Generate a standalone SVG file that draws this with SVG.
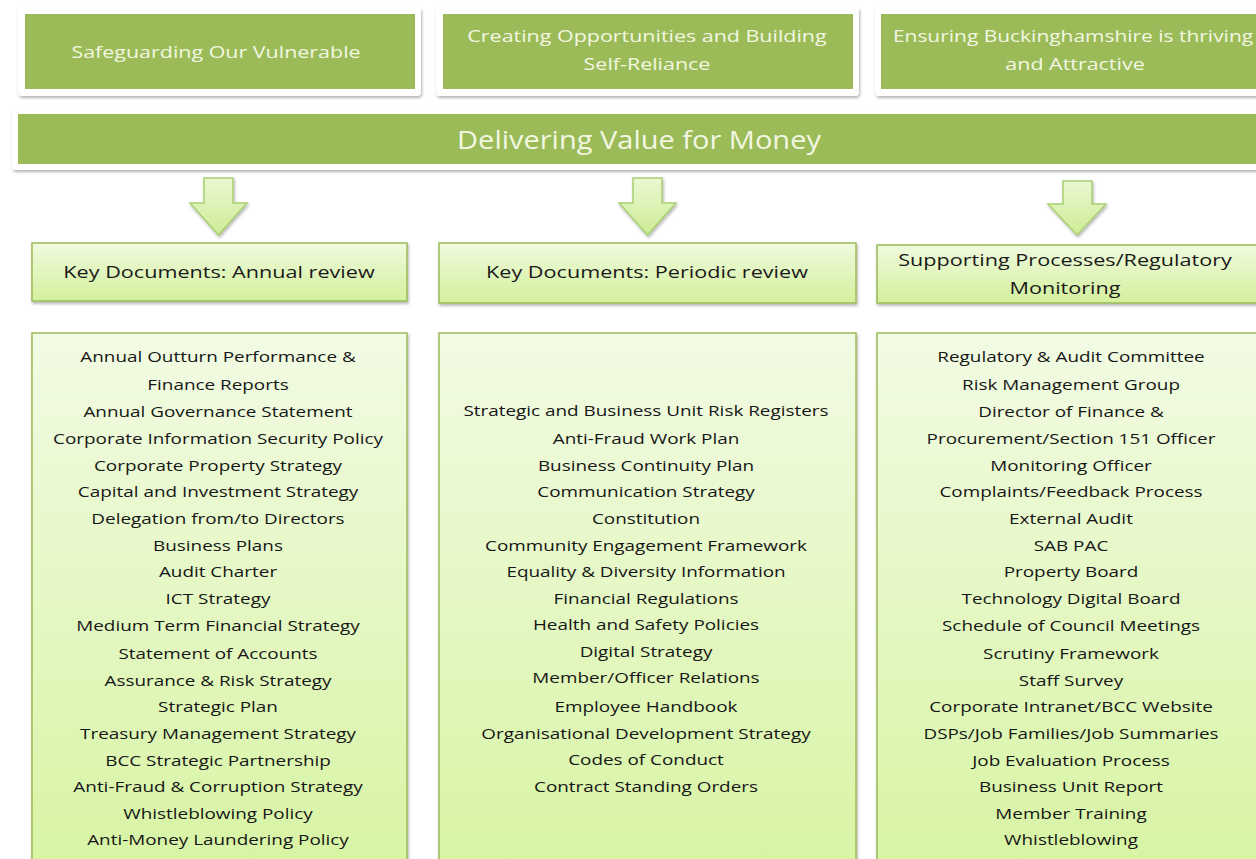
<svg xmlns="http://www.w3.org/2000/svg" width="1256" height="859" viewBox="0 0 1256 859">
<defs>
<linearGradient id="gBox" x1="0" y1="0" x2="0" y2="1">
<stop offset="0" stop-color="#f2fbe4"/>
<stop offset="1" stop-color="#d7f4a3"/>
</linearGradient>
<linearGradient id="gHead" x1="0" y1="0" x2="0" y2="1">
<stop offset="0" stop-color="#f0fadf"/>
<stop offset="1" stop-color="#d3f09c"/>
</linearGradient>
<linearGradient id="gArrow" x1="0" y1="0" x2="0" y2="1">
<stop offset="0" stop-color="#eaf8d2"/>
<stop offset="1" stop-color="#cdec95"/>
</linearGradient>
<filter id="sh" x="-5%" y="-10%" width="110%" height="130%">
<feDropShadow dx="1" dy="2" stdDeviation="1.5" flood-color="#000" flood-opacity="0.3"/>
</filter>
</defs>
<style>
.frame{fill:#ffffff;filter:url(#sh);}
.band{fill:#9bbb59;}
.wt{font-family:"Open Sans","Liberation Sans",sans-serif;fill:#f3f7e2;text-anchor:middle;}
.box{fill:url(#gBox);stroke:#9bbb59;stroke-width:1.5;filter:url(#sh);}
.head{fill:url(#gHead);stroke:#9bbb59;stroke-width:1.5;filter:url(#sh);}
.arrow{fill:url(#gArrow);stroke:#a9cf72;stroke-width:1.5;filter:url(#sh);}
.ht{font-family:"Open Sans","Liberation Sans",sans-serif;font-size:16.5px;fill:#1a1a1a;text-anchor:middle;}
.lt{font-family:"Open Sans","Liberation Sans",sans-serif;font-size:15px;fill:#161616;text-anchor:middle;}
</style>
<rect width="1256" height="859" fill="#ffffff"/>

<g id="goal1">
<rect class="frame" x="18" y="7" width="403" height="89" rx="4"/>
<rect class="band" x="25" y="14" width="390" height="75"/>
<g transform="translate(216 0) scale(1.3 1)">
<text class="wt" x="0" y="58" font-size="16.5">Safeguarding Our Vulnerable</text>
</g>
</g>
<g id="goal2">
<rect class="frame" x="436" y="7" width="423" height="89" rx="4"/>
<rect class="band" x="443" y="14" width="410" height="75"/>
<g transform="translate(647 0) scale(1.3 1)">
<text class="wt" x="0" y="42" font-size="16.5">Creating Opportunities and Building</text>
<text class="wt" x="0" y="70" font-size="16.5">Self-Reliance</text>
</g>
</g>
<g id="goal3">
<rect class="frame" x="875" y="7" width="400" height="89" rx="4"/>
<rect class="band" x="881" y="14" width="390" height="75"/>
<g transform="translate(1073 0) scale(1.27 1)">
<text class="wt" x="0" y="42" font-size="16.5">Ensuring Buckinghamshire is thriving</text>
</g>
<g transform="translate(1075 0) scale(1.3 1)">
<text class="wt" x="0" y="70" font-size="16.5">and Attractive</text>
</g>
</g>
<g id="banner">
<rect class="frame" x="12" y="108" width="1270" height="62" rx="4"/>
<rect class="band" x="18" y="114" width="1260" height="50"/>
<g transform="translate(639 0) scale(1.16 1)">
<text class="wt" x="0" y="149" font-size="25">Delivering Value for Money</text>
</g>
</g>

<g id="connectors">
<path class="arrow" d="M204,178 H233 V203 H247 L218.5,235 L190,203 H204 Z"/>
<path class="arrow" d="M633,178 H662 V203 H676 L647.5,235 L619,203 H633 Z"/>
<path class="arrow" d="M1063,181 H1092 V204 H1106 L1077,235 L1048,204 H1063 Z"/>
</g>

<g id="head1">
<rect class="head" x="32" y="243" width="375" height="58"/>
<g transform="translate(219 0) scale(1.31 1)">
<text class="ht" x="0" y="278">Key Documents: Annual review</text>
</g>
</g>
<g id="head2">
<rect class="head" x="439" y="243" width="417" height="60"/>
<g transform="translate(647 0) scale(1.31 1)">
<text class="ht" x="0" y="278">Key Documents: Periodic review</text>
</g>
</g>
<g id="head3">
<rect class="head" x="877" y="245" width="400" height="58"/>
<g transform="translate(1065 0) scale(1.31 1)">
<text class="ht" x="0" y="266">Supporting Processes/Regulatory</text>
<text class="ht" x="0" y="294">Monitoring</text>
</g>
</g>

<g id="list1">
<rect class="box" x="32" y="333" width="375" height="540"/>
<g transform="translate(218 0) scale(1.26 1)">
<text class="lt" x="0" y="362">Annual Outturn Performance &amp;</text>
<text class="lt" x="0" y="390">Finance Reports</text>
<text class="lt" x="0" y="417">Annual Governance Statement</text>
<text class="lt" x="0" y="444">Corporate Information Security Policy</text>
<text class="lt" x="0" y="471">Corporate Property Strategy</text>
<text class="lt" x="0" y="497">Capital and Investment Strategy</text>
<text class="lt" x="0" y="524">Delegation from/to Directors</text>
<text class="lt" x="0" y="551">Business Plans</text>
<text class="lt" x="0" y="577">Audit Charter</text>
<text class="lt" x="0" y="604">ICT Strategy</text>
<text class="lt" x="0" y="631">Medium Term Financial Strategy</text>
<text class="lt" x="0" y="659">Statement of Accounts</text>
<text class="lt" x="0" y="686">Assurance &amp; Risk Strategy</text>
<text class="lt" x="0" y="712">Strategic Plan</text>
<text class="lt" x="0" y="739">Treasury Management Strategy</text>
<text class="lt" x="0" y="766">BCC Strategic Partnership</text>
<text class="lt" x="0" y="792">Anti-Fraud &amp; Corruption Strategy</text>
<text class="lt" x="0" y="819">Whistleblowing Policy</text>
<text class="lt" x="0" y="845">Anti-Money Laundering Policy</text>
</g>
</g>

<g id="list2">
<rect class="box" x="439" y="333" width="417" height="540"/>
<g transform="translate(646 0) scale(1.26 1)">
<text class="lt" x="0" y="416">Strategic and Business Unit Risk Registers</text>
<text class="lt" x="0" y="444">Anti-Fraud Work Plan</text>
<text class="lt" x="0" y="471">Business Continuity Plan</text>
<text class="lt" x="0" y="497">Communication Strategy</text>
<text class="lt" x="0" y="524">Constitution</text>
<text class="lt" x="0" y="551">Community Engagement Framework</text>
<text class="lt" x="0" y="577">Equality &amp; Diversity Information</text>
<text class="lt" x="0" y="604">Financial Regulations</text>
<text class="lt" x="0" y="630">Health and Safety Policies</text>
<text class="lt" x="0" y="657">Digital Strategy</text>
<text class="lt" x="0" y="683">Member/Officer Relations</text>
<text class="lt" x="0" y="712">Employee Handbook</text>
<text class="lt" x="0" y="739">Organisational Development Strategy</text>
<text class="lt" x="0" y="765">Codes of Conduct</text>
<text class="lt" x="0" y="792">Contract Standing Orders</text>
</g>
</g>

<g id="list3">
<rect class="box" x="877" y="333" width="400" height="540"/>
<g transform="translate(1071 0) scale(1.26 1)">
<text class="lt" x="0" y="362">Regulatory &amp; Audit Committee</text>
<text class="lt" x="0" y="390">Risk Management Group</text>
<text class="lt" x="0" y="417">Director of Finance &amp;</text>
<text class="lt" x="0" y="444">Procurement/Section 151 Officer</text>
<text class="lt" x="0" y="471">Monitoring Officer</text>
<text class="lt" x="0" y="497">Complaints/Feedback Process</text>
<text class="lt" x="0" y="524">External Audit</text>
<text class="lt" x="0" y="551">SAB PAC</text>
<text class="lt" x="0" y="577">Property Board</text>
<text class="lt" x="0" y="604">Technology Digital Board</text>
<text class="lt" x="0" y="631">Schedule of Council Meetings</text>
<text class="lt" x="0" y="659">Scrutiny Framework</text>
<text class="lt" x="0" y="686">Staff Survey</text>
<text class="lt" x="0" y="712">Corporate Intranet/BCC Website</text>
<text class="lt" x="0" y="739">DSPs/Job Families/Job Summaries</text>
<text class="lt" x="0" y="766">Job Evaluation Process</text>
<text class="lt" x="0" y="792">Business Unit Report</text>
<text class="lt" x="0" y="819">Member Training</text>
<text class="lt" x="0" y="845">Whistleblowing</text>
</g>
</g>
</svg>
